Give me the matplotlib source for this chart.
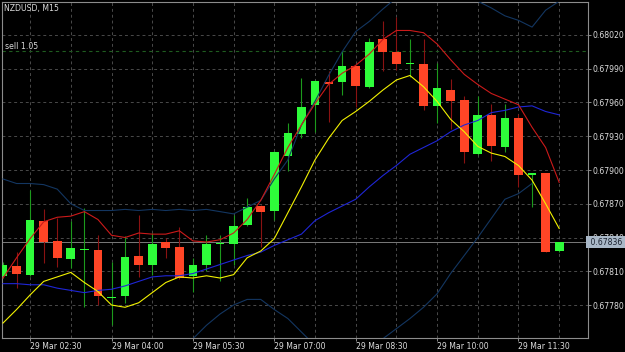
import numpy as np
import matplotlib
matplotlib.use("Agg")
import matplotlib.pyplot as plt
import matplotlib.transforms as mtransforms

# NZDUSD M15, 29 Mar 02:00 .. 12:15 (one entry per bar)
opens = [0.67806, 0.67815, 0.67807, 0.67855, 0.67837, 0.67821, 0.67829, 0.67829, 0.67786, 0.67788,
         0.67824, 0.67816, 0.67836, 0.67832, 0.67806, 0.67816, 0.67834, 0.67834, 0.67851, 0.67868,
         0.67864, 0.67912, 0.67932, 0.67958, 0.67978, 0.67978, 0.67992, 0.67974, 0.68016, 0.68005,
         0.67994, 0.67994, 0.67957, 0.67971, 0.67962, 0.67914, 0.67949, 0.67920, 0.67946, 0.67896,
         0.67897, 0.67828]
highs = [0.67818, 0.67827, 0.67882, 0.67865, 0.67857, 0.67855, 0.67866, 0.67842, 0.67818, 0.67841,
         0.67860, 0.67844, 0.67840, 0.67849, 0.67822, 0.67842, 0.67842, 0.67860, 0.67875, 0.67869,
         0.67917, 0.67942, 0.67982, 0.67980, 0.67988, 0.68006, 0.67992, 0.68017, 0.68032, 0.68036,
         0.68016, 0.68016, 0.67995, 0.67981, 0.67966, 0.67966, 0.67959, 0.67959, 0.67950, 0.67897,
         0.67897, 0.67836]
lows = [0.67804, 0.67795, 0.67806, 0.67817, 0.67814, 0.67813, 0.67778, 0.67780, 0.67762, 0.67782,
        0.67805, 0.67807, 0.67822, 0.67803, 0.67792, 0.67810, 0.67801, 0.67816, 0.67850, 0.67832,
        0.67856, 0.67899, 0.67928, 0.67934, 0.67943, 0.67967, 0.67956, 0.67973, 0.67988, 0.67989,
        0.67983, 0.67953, 0.67942, 0.67936, 0.67906, 0.67913, 0.67908, 0.67916, 0.67885, 0.67867,
        0.67827, 0.67827]
closes = [0.67816, 0.67808, 0.67856, 0.67836, 0.67822, 0.67831, 0.67830, 0.67788, 0.67787, 0.67823,
          0.67816, 0.67834, 0.67831, 0.67804, 0.67816, 0.67834, 0.67835, 0.67850, 0.67867, 0.67863,
          0.67916, 0.67933, 0.67956, 0.67979, 0.67976, 0.67992, 0.67975, 0.68014, 0.68005, 0.67994,
          0.67995, 0.67957, 0.67973, 0.67961, 0.67916, 0.67949, 0.67921, 0.67946, 0.67896, 0.67897,
          0.67827, 0.67836]

# indicators
red_ma = [0.67804, 0.67822, 0.67839, 0.67854, 0.67858, 0.67859, 0.67863, 0.67856, 0.67842, 0.67840,
          0.67844, 0.67843, 0.67843, 0.67846, 0.67837, 0.67836, 0.67838, 0.67844, 0.67856, 0.67873,
          0.67896, 0.67920, 0.67940, 0.67959, 0.67976, 0.67986, 0.67993, 0.68003, 0.68016, 0.68024,
          0.68024, 0.68022, 0.68012, 0.67998, 0.67985, 0.67976, 0.67968, 0.67963, 0.67958, 0.67938,
          0.67920, 0.67889]
yellow_ma = [0.67764, 0.67776, 0.67789, 0.67801, 0.67805, 0.67809, 0.67800, 0.67792, 0.67780, 0.67778,
             0.67782, 0.67791, 0.67800, 0.67805, 0.67804, 0.67806, 0.67804, 0.67807, 0.67822, 0.67828,
             0.67839, 0.67862, 0.67885, 0.67909, 0.67928, 0.67944, 0.67952, 0.67961, 0.67971, 0.67980,
             0.67984, 0.67974, 0.67961, 0.67945, 0.67934, 0.67921, 0.67915, 0.67912, 0.67904, 0.67891,
             0.67870, 0.67848]
blue_ma = [0.67799, 0.67799, 0.67798, 0.67798, 0.67795, 0.67793, 0.67791, 0.67793, 0.67794, 0.67797,
           0.67801, 0.67805, 0.67806, 0.67806, 0.67808, 0.67812, 0.67816, 0.67820, 0.67824, 0.67827,
           0.67833, 0.67838, 0.67843, 0.67855, 0.67862, 0.67868, 0.67874, 0.67885, 0.67895, 0.67904,
           0.67914, 0.67920, 0.67926, 0.67934, 0.67940, 0.67944, 0.67951, 0.67953, 0.67956, 0.67957,
           0.67952, 0.67949]
band_up = [0.67892, 0.67888, 0.67888, 0.67887, 0.67883, 0.67870, 0.67864, 0.67864, 0.67864, 0.67865,
           0.67864, 0.67865, 0.67864, 0.67865, 0.67864, 0.67865, 0.67863, 0.67861, 0.67867, 0.67873,
           0.67892, 0.67909, 0.67940, 0.67961, 0.67984, 0.68005, 0.68023, 0.68032, 0.68043, 0.68053,
           0.68058, 0.68062, 0.68062, 0.68060, 0.68056, 0.68050, 0.68044, 0.68037, 0.68033, 0.68027,
           0.68042, 0.68050]
band_dn = [0.67740, 0.67736, 0.67731, 0.67729, 0.67729, 0.67731, 0.67733, 0.67735, 0.67736, 0.67736,
           0.67738, 0.67740, 0.67742, 0.67744, 0.67750, 0.67762, 0.67772, 0.67780, 0.67785, 0.67785,
           0.67776, 0.67768, 0.67756, 0.67744, 0.67736, 0.67731, 0.67736, 0.67742, 0.67750, 0.67759,
           0.67768, 0.67778, 0.67790, 0.67808, 0.67824, 0.67840, 0.67857, 0.67874, 0.67879, 0.67888,
           np.nan, np.nan]

price_ticks = [0.67780, 0.67810, 0.67840, 0.67870, 0.67900, 0.67930, 0.67960, 0.67990, 0.68020]
time_pos = [2, 8, 14, 20, 26, 32, 38]
time_labels = ["29 Mar 02:30", "29 Mar 04:00", "29 Mar 05:30", "29 Mar 07:00",
               "29 Mar 08:30", "29 Mar 10:00", "29 Mar 11:30"]
bid = 0.67836
sell_level = 0.68006

fs = 5.6
txt_col = "#dcdcdc"
grid_col = "#4a4a4a"

fig = plt.figure(figsize=(6.25, 3.52), dpi=100, facecolor="black")
ax = fig.add_axes([2/625, 1-338/352, 586/625, 336/352], facecolor="black")

n = len(opens)
x = np.arange(n)
o = np.array(opens); c = np.array(closes)
up = c >= o

# grid
for gx in range(2, n, 3):
    ax.axvline(gx, color=grid_col, lw=0.7, ls=(0, (3, 3)), zorder=0)
for gy in price_ticks:
    ax.axhline(gy, color=grid_col, lw=0.7, ls=(0, (3, 3)), zorder=0)

ax.axhline(sell_level, color="#1f5c1f", lw=0.8, ls=(0, (3, 3)), zorder=1)
ax.axhline(bid, color="#7a7a7a", lw=0.7, zorder=1)

# candles
w = 0.64
for i in range(n):
    wick_col = "#1c9a1c" if up[i] else "#8a1212"
    ax.vlines(x[i], lows[i], highs[i], color=wick_col, lw=0.8, zorder=2)
    bottom = min(o[i], c[i])
    h = max(abs(c[i] - o[i]), 0.000012)
    ax.bar(x[i], h, w, bottom=bottom, color="#2efc3a" if up[i] else "#ff4526",
           edgecolor="none", zorder=3)

# indicator lines
ax.plot(x, band_up, color="#133661", lw=0.8, zorder=4)
ax.plot(x, band_dn, color="#133661", lw=0.8, zorder=4)
ax.plot(x, blue_ma, color="#1f26d6", lw=0.8, zorder=4)
ax.plot(x, yellow_ma, color="#f2f200", lw=0.8, zorder=5)
ax.plot(x, red_ma, color="#cc1a1a", lw=0.8, zorder=5)

ax.set_xlim((2 - 1.5) / 13.6 - 0.11, (588 - 1.5) / 13.6)
ax.set_ylim(0.677507, 0.680493)

for s in ax.spines.values():
    s.set_color("#8c8c8c")
    s.set_linewidth(0.8)

ax.yaxis.tick_right()
ax.set_yticks(price_ticks)
ax.set_yticklabels(["%.5f" % p for p in price_ticks])
ax.tick_params(axis="y", colors="#8c8c8c", length=2, width=0.7, pad=1, labelsize=fs,
               labelcolor=txt_col)
ax.set_xticks(time_pos)
ax.set_xticklabels(time_labels, ha="left")
ax.tick_params(axis="x", colors="#8c8c8c", length=2, width=0.7, pad=1.2, labelsize=fs,
               labelcolor=txt_col)

# current price box
trans = mtransforms.blended_transform_factory(ax.transAxes, ax.transData)
ax.text(1.0, bid, " %.5f " % bid, transform=trans, ha="left", va="center", fontsize=fs,
        color="#1a2230", clip_on=False, zorder=10,
        bbox=dict(boxstyle="square,pad=0.25", fc="#a9b8c8", ec="none"))

fig.text(4/625, 1 - 8/352, "NZDUSD, M15", color=txt_col, fontsize=fs, va="center", ha="left")
fig.text(5/625, 1 - 46.5/352, "sell 1.05", color=txt_col, fontsize=fs, va="center", ha="left")

fig.savefig("out.png", dpi=100, facecolor="black")
